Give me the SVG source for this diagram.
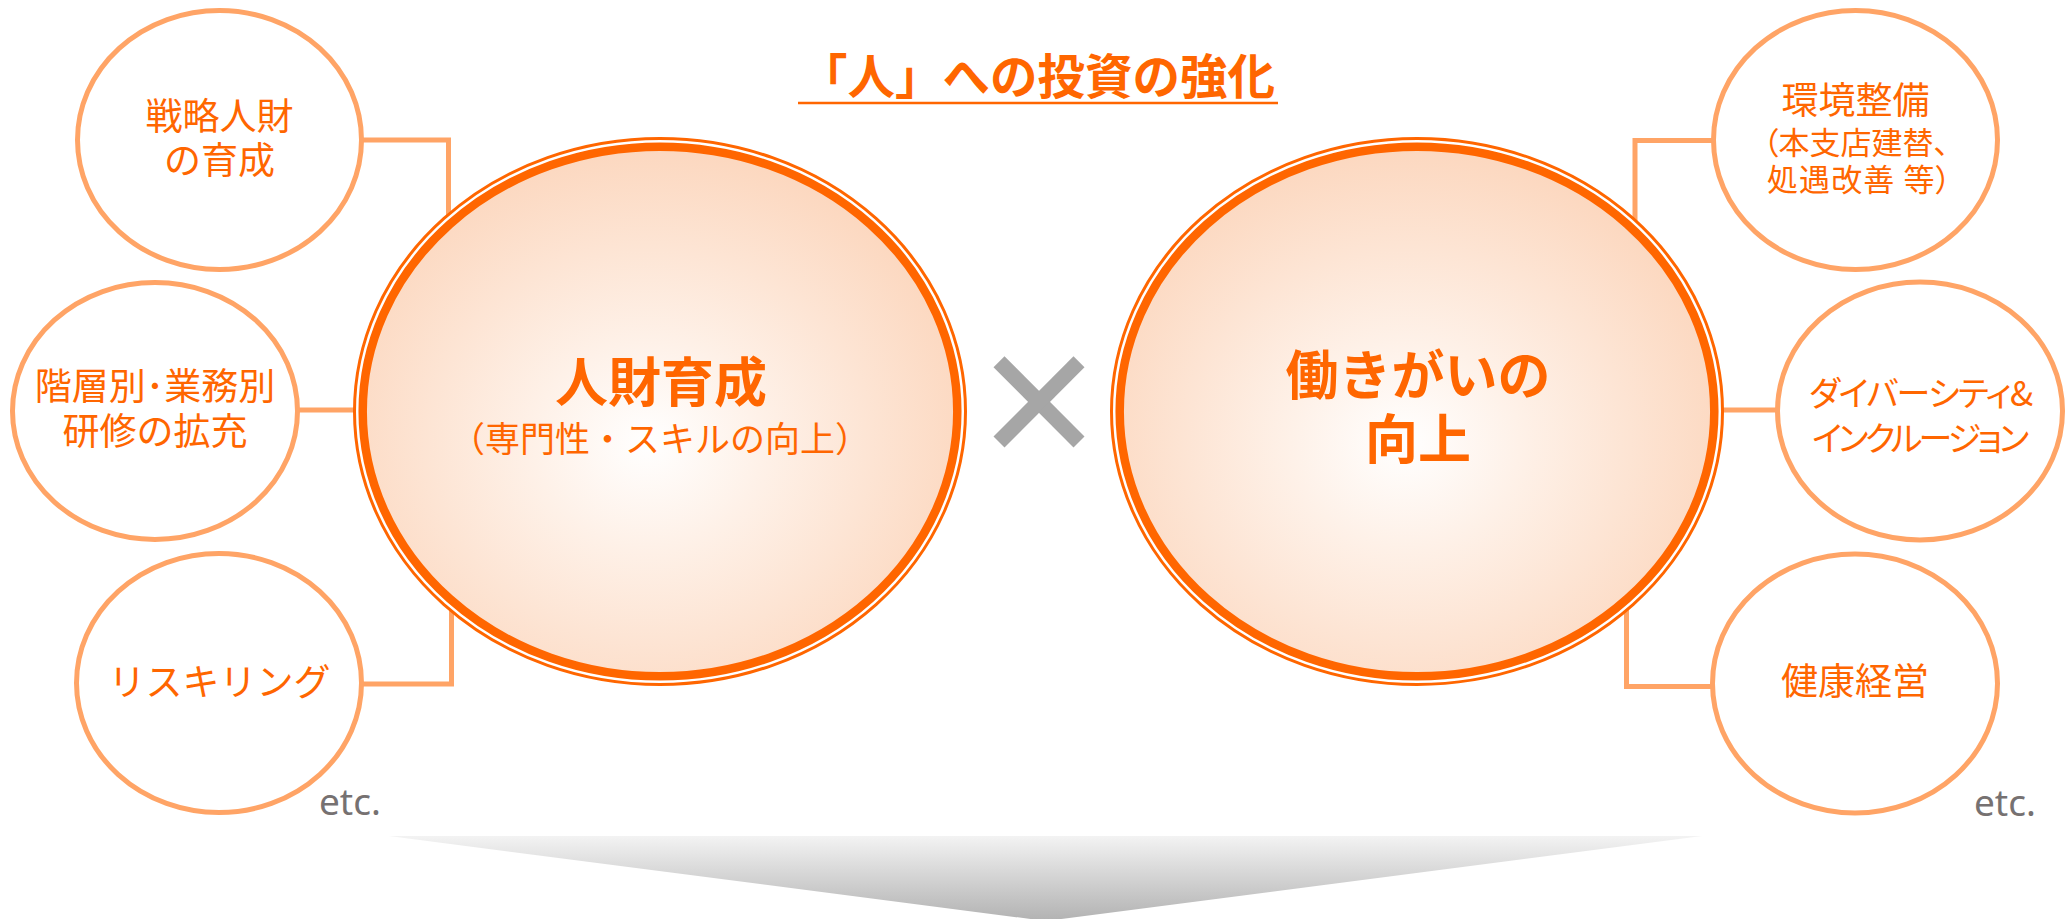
<svg xmlns="http://www.w3.org/2000/svg" width="2069" height="919" viewBox="0 0 2069 919">
  <defs>
    <radialGradient id="bigFill" cx="0.48" cy="0.56" r="0.55" fx="0.48" fy="0.56">
      <stop offset="0" stop-color="#FFFFFF"/>
      <stop offset="0.35" stop-color="#FEF1E8"/>
      <stop offset="1" stop-color="#FCD8C0"/>
    </radialGradient>
    <linearGradient id="shadeFill" gradientUnits="userSpaceOnUse" x1="0" y1="836" x2="0" y2="921">
      <stop offset="0" stop-color="#F3F3F3"/>
      <stop offset="1" stop-color="#B2B2B2"/>
    </linearGradient>
    <style>
      text { font-family: "Noto Sans CJK JP", "Noto Sans", sans-serif; fill: #FF6600; }
      .title { font-size: 47.5px; font-weight: bold; }
      .big { font-size: 53px; font-weight: bold; text-anchor: middle; }
      .sub { font-size: 35px; text-anchor: middle; }
      .small { font-size: 37px; text-anchor: middle; }
      .small2 { font-size: 31px; text-anchor: middle; font-feature-settings: "palt"; }
      .kana { font-size: 34px; text-anchor: middle; font-feature-settings: "palt"; }
      .etc { font-family: "Noto Sans", "Liberation Sans", sans-serif; font-size: 37px; fill: #767171; }
      .sat { fill: #FFFFFF; stroke: #FFA466; stroke-width: 5; }
      .ring-outer { fill: #FFFFFF; stroke: #FF6600; stroke-width: 3; }
      .ring-inner { fill: url(#bigFill); stroke: #FF6600; stroke-width: 8.5; }
      .conn { fill: none; stroke: #FFA466; stroke-width: 5; }
    </style>
  </defs>

  <rect x="0" y="0" width="2069" height="919" fill="#FFFFFF"/>

  <!-- bottom shading -->
  <polygon id="shade" points="389,836 1702,836 1046,921" fill="url(#shadeFill)"/>

  <!-- connectors -->
  <g id="connectors">
    <path class="conn" d="M 361 140 H 448.5 V 226"/>
    <path class="conn" d="M 297 410 H 362"/>
    <path class="conn" d="M 361 684 H 451.5 V 600"/>
    <path class="conn" d="M 1714 140.5 H 1635 V 228"/>
    <path class="conn" d="M 1722 410 H 1780"/>
    <path class="conn" d="M 1714 686.5 H 1626.5 V 603"/>
  </g>

  <!-- title -->
  <g id="title">
    <text class="title" x="800" y="94">「人」への投資の強化</text>
    <line x1="798" y1="103" x2="1278" y2="103" stroke="#FF6600" stroke-width="2.6"/>
  </g>

  <!-- left big node -->
  <g id="node-jinzai">
    <ellipse class="ring-outer" cx="660" cy="411.5" rx="305.5" ry="273"/>
    <ellipse class="ring-inner" cx="660" cy="411.5" rx="297.3" ry="264.8"/>
    <text class="big" x="661" y="402">人財育成</text>
    <text class="sub" x="660" y="452">（専門性・スキルの向上）</text>
  </g>

  <!-- multiply sign -->
  <g id="times" stroke="#A6A6A6" stroke-width="15.5" stroke-linecap="butt">
    <line x1="999" y1="361.7" x2="1079" y2="442"/>
    <line x1="1079" y1="361.7" x2="999" y2="442"/>
  </g>

  <!-- right big node -->
  <g id="node-hatarakigai">
    <ellipse class="ring-outer" cx="1417" cy="411.5" rx="305.5" ry="273"/>
    <ellipse class="ring-inner" cx="1417" cy="411.5" rx="297.3" ry="264.8"/>
    <text class="big" x="1418" y="395">働きがいの</text>
    <text class="big" x="1418" y="459">向上</text>
  </g>

  <!-- left satellites -->
  <g id="node-senryaku">
    <ellipse class="sat" cx="219.5" cy="140" rx="142" ry="129.5"/>
    <text class="small" x="219.5" y="130">戦略人財</text>
    <text class="small" x="219.5" y="174">の育成</text>
  </g>
  <g id="node-kenshu">
    <ellipse class="sat" cx="155" cy="411" rx="142.5" ry="128.5"/>
    <text class="small" x="155" y="400">階層別･業務別</text>
    <text class="small" x="155" y="445">研修の拡充</text>
  </g>
  <g id="node-reskilling">
    <ellipse class="sat" cx="219" cy="683" rx="142.5" ry="129.5"/>
    <text class="small" x="219.5" y="696">リスキリング</text>
  </g>
  <text id="etc-left" class="etc" x="319" y="815">etc.</text>

  <!-- right satellites -->
  <g id="node-kankyo">
    <ellipse class="sat" cx="1855.5" cy="140" rx="142" ry="129.5"/>
    <text class="small" x="1855.5" y="114">環境整備</text>
    <text class="small2" x="1856" y="154" textLength="186" lengthAdjust="spacing">（本支店建替、</text>
    <text class="small2" x="1859" y="191" textLength="184" lengthAdjust="spacing">処遇改善 等）</text>
  </g>
  <g id="node-diversity">
    <ellipse class="sat" cx="1920" cy="411" rx="142.5" ry="129"/>
    <text class="kana" x="1921" y="406" textLength="224" lengthAdjust="spacing">ダイバーシティ&amp;</text>
    <text class="kana" x="1920.5" y="451" textLength="217" lengthAdjust="spacing">インクルージョン</text>
  </g>
  <g id="node-kenko">
    <ellipse class="sat" cx="1855" cy="683.5" rx="142.5" ry="129.5"/>
    <text class="small" x="1855" y="695">健康経営</text>
  </g>
  <text id="etc-right" class="etc" x="1974" y="816">etc.</text>
</svg>
